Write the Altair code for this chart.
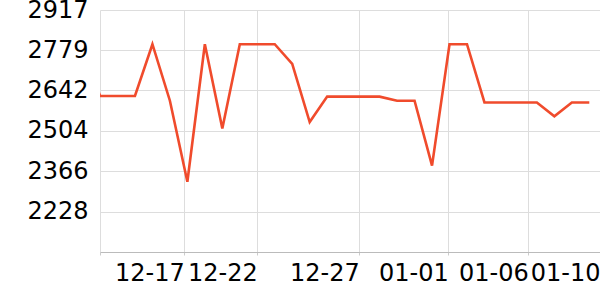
import altair as alt
import pandas as pd

dates = pd.date_range("2023-12-12", "2024-01-10", freq="D").strftime("%Y-%m-%d").tolist()
values = [2800, 2623, 2623, 2623, 2800, 2607, 2330, 2800, 2512, 2800,
          2800, 2800, 2733, 2534, 2621, 2621, 2621, 2621, 2607, 2607,
          2385, 2800, 2800, 2601, 2601, 2601, 2601, 2554, 2601, 2601]

y_ticks = [2228, 2366, 2504, 2642, 2779, 2917]
y_min = 2090
x_labels = ["12-17", "12-22", "12-27", "01-01", "01-06", "01-10"]

df = pd.DataFrame({"date": dates, "value": values})

def dt(y, m, d, h=0, mi=0):
    return alt.DateTime(year=y, month=m, date=d, hours=h, minutes=mi, utc=True)

x_start = dt(2023, 12, 13)
x_end = dt(2024, 1, 10, 14, 41)
x_tick_vals = [
    x_start,
    dt(2023, 12, 17, 19, 47),
    dt(2023, 12, 22, 0, 3),
    dt(2023, 12, 27, 20, 7),
    dt(2024, 1, 1, 22, 21),
    dt(2024, 1, 6, 12, 14),
    x_end,
]

chart = alt.Chart(df).mark_line(color="#f04b2c", strokeWidth=2.6, clip=True).encode(
    x=alt.X(
        "date:T",
        scale=alt.Scale(type="utc", domain=[x_start, x_end], nice=False),
        axis=alt.Axis(
            title=None,
            values=x_tick_vals,
            labelExpr="utcFormat(datum.value, '%m-%d') == '12-13' ? '' : utcFormat(datum.value, '%m-%d')",
            labelAlign="right",
            labelBaseline="top",
            labelFont="DejaVu Sans",
            labelFontSize=24,
            labelColor="#000000",
            labelPadding=6,
            labelOverlap=False,
            labelFlush=False,
            tickSize=3,
            tickColor="#cccccc",
            domainColor="#bbbbbb",
            gridColor="#dddddd",
            grid=True,
        ),
    ),
    y=alt.Y(
        "value:Q",
        scale=alt.Scale(domain=[y_min, y_ticks[-1]], nice=False, zero=False),
        axis=alt.Axis(
            title=None,
            values=y_ticks,
            format="d",
            labelFont="DejaVu Sans",
            labelFontSize=24,
            labelColor="#000000",
            labelPadding=12,
            ticks=False,
            domain=False,
            gridColor="#dddddd",
            labelBaseline="middle",
        ),
    ),
).properties(
    width=500,
    height=242,
    autosize=alt.AutoSizeParams(type="none"),
    padding={"left": 100, "top": 10, "right": 0, "bottom": 48},
).configure_view(stroke=None)

chart.save("out.html", embed_options={"renderer": "svg", "actions": False})
